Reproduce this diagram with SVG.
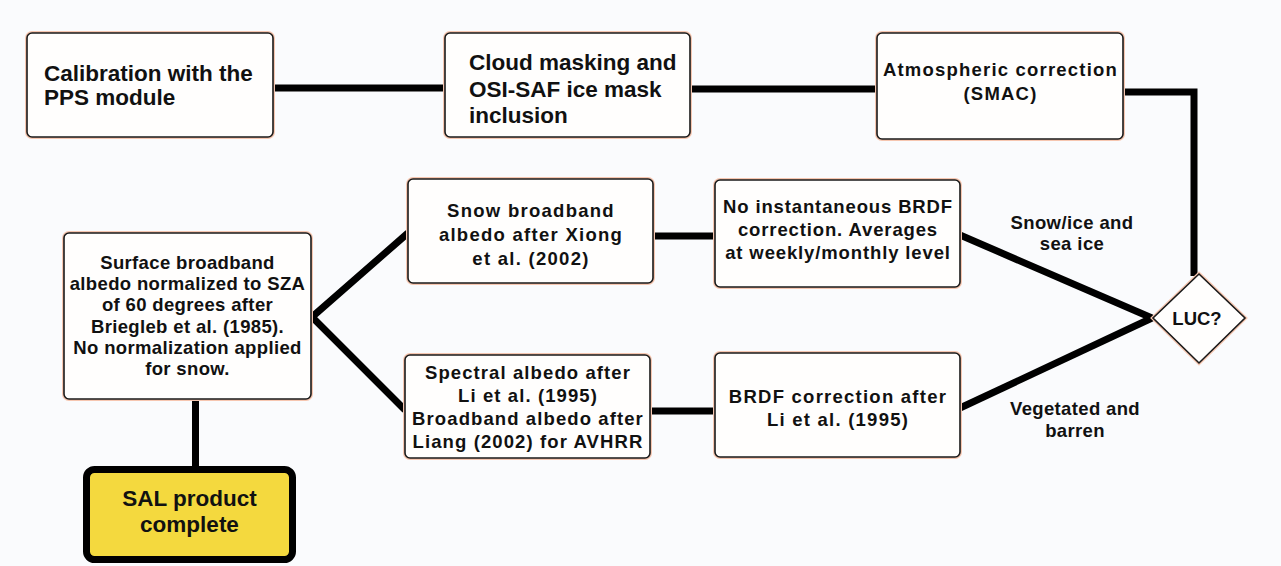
<svg xmlns="http://www.w3.org/2000/svg" width="1281" height="566" viewBox="0 0 1281 566">
<style>
.halo{fill:none;stroke:#f6c6b0;stroke-width:4}
.box{fill:#fffefd;stroke:#1a1a1a;stroke-width:1.6}
.conn{fill:none;stroke:#000;stroke-width:7;stroke-linejoin:miter}
.t1{font-family:"Liberation Sans",Arial,sans-serif;font-weight:bold;font-size:22.5px;fill:#111}
.t2{font-family:"Liberation Sans",Arial,sans-serif;font-weight:bold;font-size:18.5px;fill:#111;text-anchor:middle}
</style>
<rect width="1281" height="566" fill="#fafbfd"/>
<g id="connectors">
<line class="conn" x1="273" y1="88" x2="445" y2="88"/>
<line class="conn" x1="690" y1="89" x2="877" y2="89"/>
<polyline class="conn" points="1123,92 1194,92 1194,276"/>
<line class="conn" x1="960" y1="235" x2="1152" y2="318"/>
<line class="conn" x1="960" y1="408" x2="1152" y2="318"/>
<line class="conn" x1="653" y1="236" x2="715" y2="236"/>
<line class="conn" x1="650" y1="411" x2="715" y2="411"/>
<polyline class="conn" points="408,233 312,317 405,410"/>
<line class="conn" x1="195.5" y1="399" x2="195.5" y2="468"/>
</g>
<g id="calibration">
<rect class="halo" x="27" y="33" width="246" height="104" rx="5"/>
<rect class="box" x="27" y="33" width="246" height="104" rx="5"/>
<text class="t1" x="44" y="81">Calibration with the</text>
<text class="t1" x="44" y="105">PPS module</text>
</g>
<g id="cloud">
<rect class="halo" x="445" y="33" width="245" height="104" rx="5"/>
<rect class="box" x="445" y="33" width="245" height="104" rx="5"/>
<text class="t1" x="469" y="70">Cloud masking and</text>
<text class="t1" x="469" y="96.5">OSI-SAF ice mask</text>
<text class="t1" x="469" y="123">inclusion</text>
</g>
<g id="atmos">
<rect class="halo" x="877" y="33" width="246" height="106" rx="5"/>
<rect class="box" x="877" y="33" width="246" height="106" rx="5"/>
<text class="t2" letter-spacing="1.2" x="1000.5" y="76">Atmospheric correction</text>
<text class="t2" letter-spacing="1.2" x="1000.5" y="100">(SMAC)</text>
</g>
<g id="luc">
<polygon class="halo" points="1199,274 1245,318 1199,363 1153,318"/>
<polygon class="box" points="1199,274 1245,318 1199,363 1153,318"/>
<text class="t2" font-size="19.5" x="1197" y="325">LUC?</text>
</g>
<g id="snowice-label">
<text class="t2" letter-spacing="0.4" x="1072" y="229">Snow/ice and</text>
<text class="t2" letter-spacing="0.4" x="1072" y="250">sea ice</text>
</g>
<g id="veg-label">
<text class="t2" letter-spacing="0.35" x="1075" y="415">Vegetated and</text>
<text class="t2" letter-spacing="0.35" x="1075" y="437">barren</text>
</g>
<g id="noinst">
<rect class="halo" x="715" y="180" width="245" height="107" rx="5"/>
<rect class="box" x="715" y="180" width="245" height="107" rx="5"/>
<text class="t2" letter-spacing="0.87" x="838" y="213">No instantaneous BRDF</text>
<text class="t2" letter-spacing="0.87" x="838" y="236">correction. Averages</text>
<text class="t2" letter-spacing="0.87" x="838" y="259">at weekly/monthly level</text>
</g>
<g id="snow">
<rect class="halo" x="408" y="179" width="245" height="104" rx="5"/>
<rect class="box" x="408" y="179" width="245" height="104" rx="5"/>
<text class="t2" letter-spacing="1.27" x="531" y="217">Snow broadband</text>
<text class="t2" letter-spacing="1.27" x="531" y="241">albedo after Xiong</text>
<text class="t2" letter-spacing="1.27" x="531" y="265">et al. (2002)</text>
</g>
<g id="brdf">
<rect class="halo" x="715" y="353" width="245" height="104" rx="5"/>
<rect class="box" x="715" y="353" width="245" height="104" rx="5"/>
<text class="t2" letter-spacing="1.24" x="838" y="403">BRDF correction after</text>
<text class="t2" letter-spacing="1.24" x="838" y="426">Li et al. (1995)</text>
</g>
<g id="spectral">
<rect class="halo" x="405" y="355" width="245" height="103" rx="5"/>
<rect class="box" x="405" y="355" width="245" height="103" rx="5"/>
<text class="t2" letter-spacing="1.1" x="528" y="379">Spectral albedo after</text>
<text class="t2" letter-spacing="1.1" x="528" y="402">Li et al. (1995)</text>
<text class="t2" letter-spacing="1.1" x="528" y="425">Broadband albedo after</text>
<text class="t2" letter-spacing="1.1" x="528" y="448">Liang (2002) for AVHRR</text>
</g>
<g id="surface">
<rect class="halo" x="64" y="233" width="247" height="166" rx="5"/>
<rect class="box" x="64" y="233" width="247" height="166" rx="5"/>
<text class="t2" letter-spacing="0.35" x="187.5" y="269">Surface broadband</text>
<text class="t2" letter-spacing="0.35" x="187.5" y="290.2">albedo normalized to SZA</text>
<text class="t2" letter-spacing="0.35" x="187.5" y="311.4">of 60 degrees after</text>
<text class="t2" letter-spacing="0.35" x="187.5" y="332.6">Briegleb et al. (1985).</text>
<text class="t2" letter-spacing="0.35" x="187.5" y="353.8">No normalization applied</text>
<text class="t2" letter-spacing="0.35" x="187.5" y="375">for snow.</text>
</g>
<g id="sal">
<rect x="86.5" y="469.5" width="206" height="90" rx="8" fill="#f4d93e" stroke="#000" stroke-width="7"/>
<text class="t1" x="189.5" y="506" text-anchor="middle">SAL product</text>
<text class="t1" x="189.5" y="532" text-anchor="middle">complete</text>
</g>
</svg>
